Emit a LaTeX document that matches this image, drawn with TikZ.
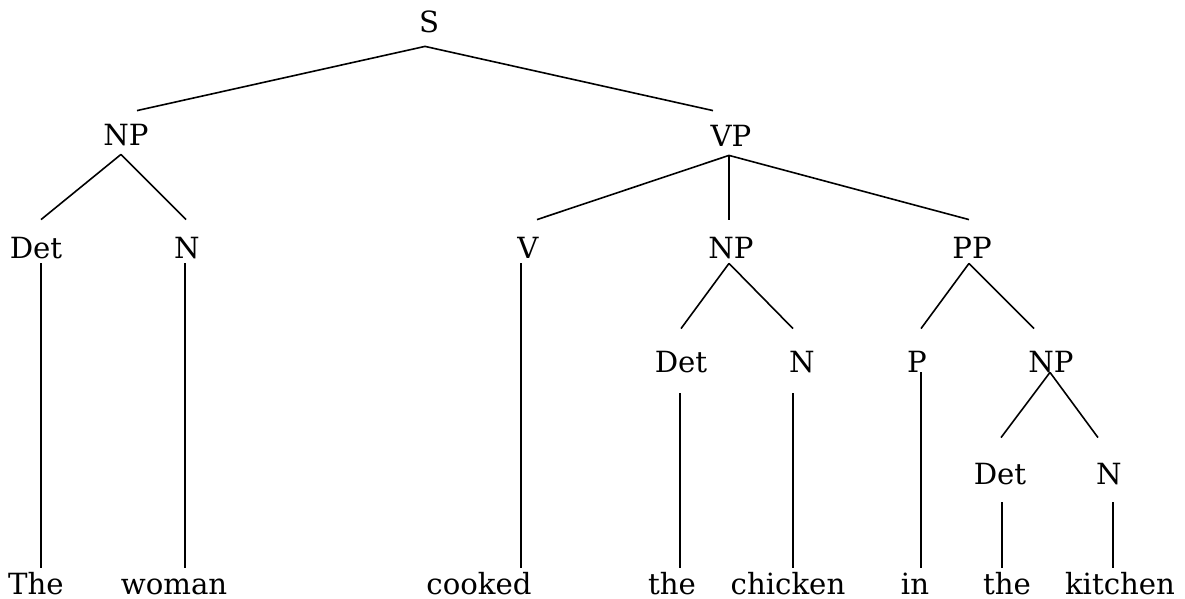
\documentclass[tikz,border=0pt]{standalone}
\usepackage{fontspec}
\setmainfont{DejaVu Serif}
\usetikzlibrary{calc}

\begin{document}
\begin{tikzpicture}[
    x=0.5pt, y=-0.5pt,
    cat/.style={anchor=base, inner xsep=0pt, inner ysep=3pt, text height=11.5pt, text depth=0pt, font=\fontsize{14.6}{18}\selectfont},
    word/.style={cat, inner ysep=1pt},
    branch/.style={line width=0.8pt, black}
]
\useasboundingbox (0,0) rectangle (1185,599);

% Categories
\node[cat] (S) at (429, 33) {S};
\node[cat] (NPa) at (126, 146) {NP};
\node[cat] (VP) at (731, 147) {VP};
\node[cat] (DetA) at (36, 258) {Det};
\node[cat] (NA) at (187, 258) {N};
\node[cat] (V) at (528, 258) {V};
\node[cat] (NPb) at (731, 258) {NP};
\node[cat] (PP) at (972, 258) {PP};
\node[cat] (DetB) at (681, 372) {Det};
\node[cat] (NB) at (802, 372) {N};
\node[cat] (P) at (917, 372) {P};
\node[cat] (NPc) at (1051, 372) {NP};
\node[cat] (DetC) at (1000, 484) {Det};
\node[cat] (NC) at (1109, 484) {N};

% Words
\node[word] (wThe) at (36, 594) {The};
\node[word] (wWoman) at (174, 594) {woman};
\node[word] (wCooked) at (479, 594) {cooked};
\node[word] (wTheB) at (672, 594) {the};
\node[word] (wChicken) at (788, 594) {chicken};
\node[word] (wIn) at (915, 594) {in};
\node[word] (wTheC) at (1007, 594) {the};
\node[word] (wKitchen) at (1120, 594) {kitchen};

% Branches
\draw[branch] ($(S.south)+(-4,7)$) -- ($(NPa.north)+(11,-6)$);
\draw[branch] ($(S.south)+(-4,7)$) -- ($(VP.north)+(-18,-7)$);
\draw[branch] ($(NPa.south)+(-5,2)$) -- ($(DetA.north)+(5,-9)$);
\draw[branch] ($(NPa.south)+(-5,2)$) -- ($(NA.north)+(-1,-9)$);
\draw[branch] ($(VP.south)+(-2,2)$) -- ($(V.north)+(9,-9)$);
\draw[branch] ($(VP.south)+(-2,2)$) -- ($(NPb.north)+(-2,-9)$);
\draw[branch] ($(VP.south)+(-2,2)$) -- ($(PP.north)+(-3,-9)$);
\draw[branch] ($(NPb.south)+(-2,-1)$) -- ($(DetB.north)+(0,-14)$);
\draw[branch] ($(NPb.south)+(-2,-1)$) -- ($(NB.north)+(-9,-14)$);
\draw[branch] ($(PP.south)+(-3,-1)$) -- ($(P.north)+(4,-14)$);
\draw[branch] ($(PP.south)+(-3,-1)$) -- ($(NPc.north)+(-17,-14)$);
\draw[branch] ($(NPc.south)+(-1,-6)$) -- ($(DetC.north)+(1,-17)$);
\draw[branch] ($(NPc.south)+(-1,-6)$) -- ($(NC.north)+(-11,-17)$);

% Down to the words
\draw[branch] ($(DetA.south)+(5,-1)$) -- ($(wThe.north)+(5,-1)$);
\draw[branch] ($(NA.south)+(-2,-1)$) -- ($(wWoman.north)+(11,-1)$);
\draw[branch] ($(V.south)+(-7,-1)$) -- ($(wCooked.north)+(42,-1)$);
\draw[branch] ($(DetB.south)+(-1,15)$) -- ($(wTheB.north)+(8,-1)$);
\draw[branch] ($(NB.south)+(-9,15)$) -- ($(wChicken.north)+(5,-1)$);
\draw[branch] ($(P.south)+(4,-6)$) -- ($(wIn.north)+(6,-1)$);
\draw[branch] ($(DetC.south)+(2,12)$) -- ($(wTheC.north)+(-5,-1)$);
\draw[branch] ($(NC.south)+(4,12)$) -- ($(wKitchen.north)+(-7,-1)$);

\end{tikzpicture}
\end{document}
